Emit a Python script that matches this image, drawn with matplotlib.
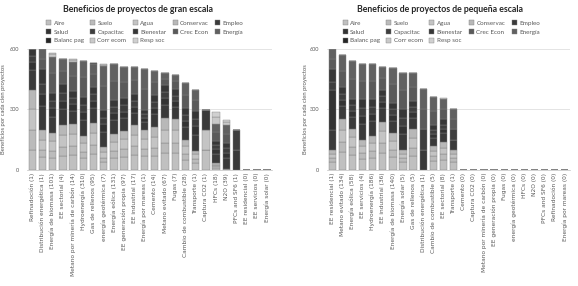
import matplotlib
matplotlib.use("Agg")
import matplotlib.pyplot as plt
import numpy as np

plt.rcParams['font.family'] = ['Lato', 'DejaVu Sans']

series = ["Aire", "Suelo", "Agua", "Conservac", "Empleo", "Salud", "Capacitac",
          "Bienestar", "Crec Econ", "Energía", "Balanc pag", "Corr ecom", "Resp soc"]
colors = ["#c0c0c0", "#bbbbbb", "#c4c4c4", "#b8b8b8", "#3a3a3a", "#333333", "#3e3e3e",
          "#373737", "#5a5a5a", "#616161", "#262626", "#c9c9c9", "#d0d0d0"]

# ---- Gran escala ----
cats_big = ["Refinadoción (1)", "Distribución energética (1)", "Energía de biomasa (101)",
            "EE sectorial (4)", "Metano por minería de carbón (14)", "Hydroenergía (310)",
            "Gas de rellenos (95)", "energía geotérmica (7)", "Energía eólica (131)",
            "EE generación propia (97)", "EE industrial (17)", "Energía por mareas (1)",
            "Cemento (14)", "Metano evitado (67)", "Fugas (7)", "Cambio de combustible (28)",
            "Transporte (1)", "Captura CO2 (1)", "HFCs (18)", "N2O (39)", "PFCs and SF6 (1)",
            "EE residencial (0)", "EE servicios (0)", "Energía solar (0)"]
big_aire      = [100, 65, 60, 70, 75, 60, 80, 40, 60, 65, 75, 70, 70, 85, 85, 50, 35, 100, 10, 0, 0, 0, 0, 0]
big_suelo     = [100, 35, 35, 45, 45, 30, 45, 20, 35, 40, 45, 35, 40, 50, 50, 30, 20, 0, 8, 3, 0, 0, 0, 0]
big_agua      = [100, 50, 50, 60, 60, 45, 60, 30, 45, 50, 55, 50, 55, 65, 65, 40, 25, 98, 8, 0, 0, 0, 0, 0]
big_conservac = [97, 48, 40, 48, 46, 34, 50, 22, 39, 40, 48, 43, 47, 56, 53, 29, 16, 0, 7, 0, 0, 0, 0, 0]
big_empleo    = [100, 120, 80, 80, 65, 80, 70, 75, 70, 65, 60, 40, 65, 65, 60, 65, 80, 99, 45, 55, 99, 0, 0, 0]
big_salud     = [40, 60, 40, 40, 35, 40, 35, 40, 35, 30, 30, 20, 30, 35, 30, 30, 40, 0, 25, 25, 0, 0, 0, 0]
big_capacitac = [30, 50, 35, 40, 30, 35, 35, 30, 30, 30, 30, 20, 30, 30, 25, 30, 35, 0, 20, 25, 99, 0, 0, 0]
big_bienestar = [33, 71, 43, 43, 37, 40, 39, 40, 34, 37, 35, 19, 35, 35, 32, 35, 43, 0, 22, 27, 0, 0, 0, 0]
big_crec      = [0, 50, 100, 65, 75, 95, 60, 120, 95, 80, 70, 105, 65, 30, 40, 65, 55, 0, 45, 45, 0, 0, 0, 0]
big_energia   = [0, 51, 78, 59, 69, 83, 52, 98, 85, 75, 62, 97, 55, 28, 31, 56, 47, 0, 38, 43, 0, 0, 0, 0]
big_balanc    = [0, 0, 0, 0, 0, 0, 5, 0, 0, 0, 0, 0, 0, 3, 0, 0, 0, 0, 0, 0, 0, 0, 0, 0]
big_corr      = [0, 0, 12, 0, 7, 0, 0, 8, 0, 0, 0, 0, 0, 0, 0, 0, 0, 0, 35, 15, 0, 0, 0, 0]
big_resp      = [0, 0, 9, 0, 5, 0, 0, 5, 0, 0, 0, 0, 0, 0, 0, 0, 0, 0, 23, 10, 0, 0, 0, 0]

# ---- Pequeña escala ----
cats_small = ["EE residencial (1)", "Metano evitado (134)", "Energía eólica (58)", "EE servicios (4)",
              "Hydroenergía (186)", "EE industrial (36)", "Energía de biomasa (140)", "Energía solar (5)",
              "Gas de rellenos (5)", "Distribución energética (1)", "Cambio de combustible (5)",
              "EE sectorial (8)", "Transporte (1)", "Cemento (0)", "Captura CO2 (0)",
              "Metano por minería de carbón (0)", "EE generación propia (0)", "Fugas (0)",
              "energía geotérmica (0)", "HFCs (0)", "N2O (0)", "PFCs and SF6 (0)",
              "Refinadoción (0)", "Energía por mareas (0)"]
sm_aire      = [40, 90, 75, 55, 60, 85, 65, 40, 70, 0, 45, 50, 40, 0, 0, 0, 0, 0, 0, 0, 0, 0, 0, 0]
sm_suelo     = [20, 50, 40, 30, 35, 50, 35, 20, 40, 0, 25, 30, 20, 0, 0, 0, 0, 0, 0, 0, 0, 0, 0, 0]
sm_agua      = [20, 60, 50, 35, 40, 60, 45, 20, 50, 0, 25, 30, 20, 0, 0, 0, 0, 0, 0, 0, 0, 0, 0, 0]
sm_conservac = [19, 53, 40, 29, 34, 45, 37, 19, 42, 0, 24, 30, 19, 0, 0, 0, 0, 0, 0, 0, 0, 0, 0, 0]
sm_empleo    = [100, 65, 60, 80, 75, 65, 60, 80, 55, 100, 40, 45, 50, 0, 0, 0, 0, 0, 0, 0, 0, 0, 0, 0]
sm_salud     = [198, 30, 30, 40, 35, 30, 30, 40, 30, 0, 20, 20, 0, 0, 0, 0, 0, 0, 0, 0, 0, 0, 0, 0]
sm_capacitac = [40, 30, 25, 40, 35, 30, 30, 40, 25, 102, 20, 20, 52, 0, 0, 0, 0, 0, 0, 0, 0, 0, 0, 0]
sm_bienestar = [62, 35, 30, 42, 37, 32, 32, 42, 30, 0, 24, 26, 0, 0, 0, 0, 0, 0, 0, 0, 0, 0, 0, 0]
sm_crec      = [50, 80, 100, 90, 90, 60, 90, 95, 70, 100, 70, 50, 50, 0, 0, 0, 0, 0, 0, 0, 0, 0, 0, 0]
sm_energia   = [51, 77, 92, 85, 84, 52, 84, 84, 67, 98, 67, 49, 49, 0, 0, 0, 0, 0, 0, 0, 0, 0, 0, 0]
sm_balanc    = [0, 0, 0, 0, 3, 0, 0, 0, 0, 0, 0, 0, 0, 0, 0, 0, 0, 0, 0, 0, 0, 0, 0, 0]
sm_corr      = [0, 0, 0, 0, 0, 0, 0, 0, 0, 0, 0, 3, 0, 0, 0, 0, 0, 0, 0, 0, 0, 0, 0, 0]
sm_resp      = [0, 0, 0, 0, 0, 0, 0, 0, 0, 0, 0, 2, 0, 0, 0, 0, 0, 0, 0, 0, 0, 0, 0, 0]

big_data = [big_aire, big_suelo, big_agua, big_conservac, big_empleo, big_salud, big_capacitac,
            big_bienestar, big_crec, big_energia, big_balanc, big_corr, big_resp]
small_data = [sm_aire, sm_suelo, sm_agua, sm_conservac, sm_empleo, sm_salud, sm_capacitac,
              sm_bienestar, sm_crec, sm_energia, sm_balanc, sm_corr, sm_resp]

fig = plt.figure(figsize=(5.78, 2.86), dpi=100)

def draw(ax, cats, data, title, title_x, leg_x, ylab_x):
    x = np.arange(len(cats))
    bottom = np.zeros(len(cats))
    handles = []
    for name, vals, c in zip(series, data, colors):
        v = np.array(vals, dtype=float)
        b = ax.bar(x, v, 0.72, bottom=bottom, color=c, edgecolor="#808080",
                   linewidth=0.3, label=name)
        handles.append(b)
        bottom += v
    ax.set_xlim(-0.5, len(cats) - 0.5)
    ax.set_ylim(0, 600)
    ax.set_yticks([0, 300, 600])
    ax.tick_params(axis='y', length=0, labelsize=4, colors="#595959", pad=6)
    ax.set_xticks(x)
    ax.set_xticklabels(cats, rotation=90, fontsize=4.2, color="#595959",
                       family="DejaVu Sans")
    ax.tick_params(axis='x', length=0, pad=2)
    ax.grid(axis='y', color="#d9d9d9", linewidth=0.5)
    ax.set_axisbelow(True)
    for s in ["top", "right", "left"]:
        ax.spines[s].set_visible(False)
    ax.spines["bottom"].set_color("#bfbfbf")
    ax.spines["bottom"].set_linewidth(0.5)
    ax.set_ylabel("Beneficios por cada cien proyectos", fontsize=4.2, color="#595959")
    ax.yaxis.set_label_coords(ylab_x, 0.5)
    fig.text(title_x / 578, 1 - 10 / 286, title, fontsize=6.3, fontweight="bold",
             color="#262626", ha="center", va="center")
    # legend in row-major order with 5 columns
    order = [0, 5, 10, 1, 6, 11, 2, 7, 12, 3, 8, 4, 9]
    hs = [handles[i] for i in order]
    ls = [series[i] for i in order]
    ax.legend(hs, ls, ncol=5, loc="lower center", bbox_to_anchor=(leg_x, 1.01),
              fontsize=4.5, frameon=False, handlelength=0.8, handleheight=0.8,
              handletextpad=0.4, columnspacing=1.0, labelspacing=0.5,
              labelcolor="#595959", borderpad=0.2)

ax1 = fig.add_axes([0.047, 0.4056, 0.424, 0.4231])
draw(ax1, cats_big, big_data, "Beneficios de proyectos de gran escala", 138, 0.48, -0.085)
ax2 = fig.add_axes([0.566, 0.4056, 0.420, 0.4231])
draw(ax2, cats_small, small_data, "Beneficios de proyectos de pequeña escala", 440, 0.47, -0.08)

fig.savefig("out.png", dpi=100)
